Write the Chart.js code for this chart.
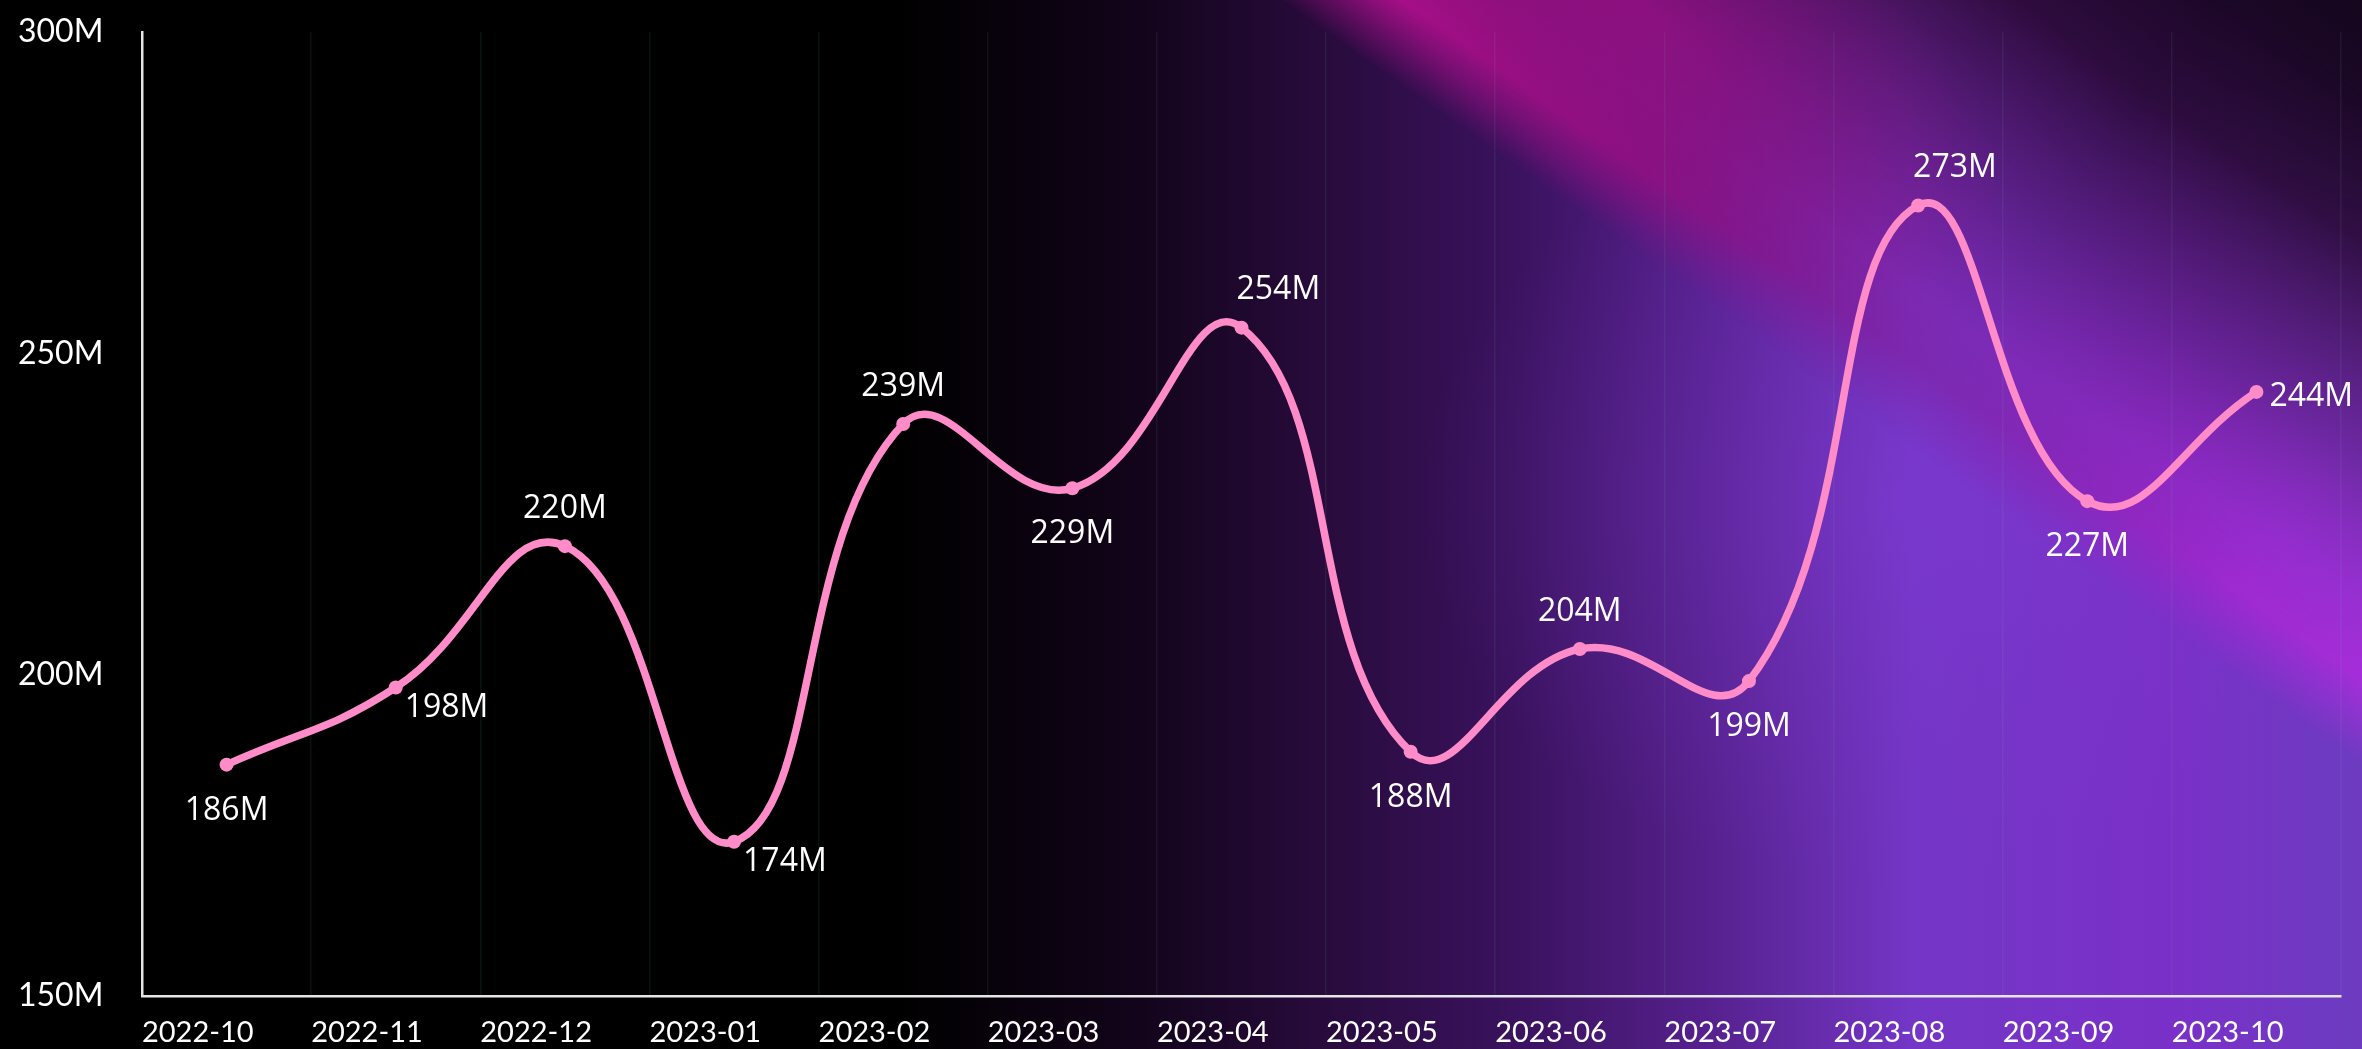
<!DOCTYPE html>
<html>
<head>
<meta charset="utf-8">
<script src="https://cdn.jsdelivr.net/npm/chart.js@4.4.1/dist/chart.umd.min.js"></script>
<style>
  html, body { margin: 0; padding: 0; background: #000; }
  #wrap { width: 2362px; height: 1049px; }
</style>
</head>
<body>
<div id="wrap"><canvas id="trendChart" width="2362" height="1049"></canvas></div>
<script>
// chart data
const months = ["2022-10", "2022-11", "2022-12", "2023-01", "2023-02", "2023-03", "2023-04",
                "2023-05", "2023-06", "2023-07", "2023-08", "2023-09", "2023-10"];
const values = [186, 198, 220, 174, 239, 229, 254, 188, 204, 199, 273, 227, 244];
const yTicks = [150, 200, 250, 300];
// where each value label sits relative to its point
const labelSpots = ["bottom", "bottomRight", "top", "bottomRight", "top", "bottom", "topRight",
                    "bottom", "top", "bottom", "topRight", "bottom", "right"];

const lineColor = "#ff8cc8";

// background: black on the left fading into purple, with a magenta streak
const backdrop = {
    id: "backdrop",
    beforeDraw(chart) {
        const ctx = chart.ctx;
        const w = chart.width, h = chart.height;
        ctx.save();
        ctx.fillStyle = "#000";
        ctx.fillRect(0, 0, w, h);

        let g = ctx.createLinearGradient(0, 0, w, 0);
        g.addColorStop(0.00, "rgba(0,0,0,1)");
        g.addColorStop(0.38, "rgba(0,0,0,1)");
        g.addColorStop(0.48, "#12041a");
        g.addColorStop(0.56, "#280b3c");
        g.addColorStop(0.64, "#3a125e");
        g.addColorStop(0.72, "#55208c");
        g.addColorStop(0.81, "#7436c6");
        g.addColorStop(0.92, "#7a30c8");
        g.addColorStop(1.00, "#6c3cc0");
        ctx.fillStyle = g;
        ctx.fillRect(0, 0, w, h);

        glow(ctx, 1900, 500, 0, 480, 0.8, "rgba(130,60,215,0.4)", "rgba(120,55,200,0.0)");

        // streak edge runs from the top middle down to the right edge
        const th = Math.atan2(680, 962);
        ctx.save();
        ctx.translate(1400, 0);
        ctx.rotate(th);
        let d = ctx.createLinearGradient(0, -60, 0, -600);
        d.addColorStop(0.00, "rgba(20,4,25,0)");
        d.addColorStop(0.55, "rgba(22,4,28,0.85)");
        d.addColorStop(1.00, "rgba(15,2,18,0.97)");
        ctx.fillStyle = d;
        ctx.fillRect(-1000, -2000, 4000, 2000);
        ctx.restore();

        // coloured streak, built off screen then laid on top
        const oc = document.createElement("canvas");
        oc.width = w; oc.height = h;
        const o = oc.getContext("2d");
        o.translate(1400, 0);
        o.rotate(th);
        let cu = o.createLinearGradient(0, 0, 1200, 0);
        cu.addColorStop(0.00, "rgba(175,15,140,1)");
        cu.addColorStop(0.25, "rgba(150,15,130,0.85)");
        cu.addColorStop(0.55, "rgba(130,25,150,0.45)");
        cu.addColorStop(0.85, "rgba(165,40,210,0.9)");
        cu.addColorStop(1.00, "rgba(170,45,220,1)");
        o.fillStyle = cu;
        o.fillRect(-1000, -2000, 4000, 4000);
        o.globalCompositeOperation = "destination-in";
        let cv = o.createLinearGradient(0, 70, 0, -480);
        cv.addColorStop(0.00, "rgba(0,0,0,0)");
        cv.addColorStop(0.13, "rgba(0,0,0,0.95)");
        cv.addColorStop(0.45, "rgba(0,0,0,0.4)");
        cv.addColorStop(1.00, "rgba(0,0,0,0)");
        o.fillStyle = cv;
        o.fillRect(-1000, -2000, 4000, 4000);
        ctx.drawImage(oc, 0, 0);

        // broad magenta wash at the top of the streak
        glow(ctx, 1640, 10, th, 420, 0.45, "rgba(165,15,135,0.55)", "rgba(150,15,130,0)");
        ctx.restore();
    }
};

function glow(ctx, cx, cy, ang, r, squash, inner, outer) {
    ctx.save();
    ctx.translate(cx, cy);
    ctx.rotate(ang);
    ctx.scale(1, squash);
    const rg = ctx.createRadialGradient(0, 0, 0, 0, 0, r);
    rg.addColorStop(0, inner);
    rg.addColorStop(1, outer);
    ctx.fillStyle = rg;
    ctx.fillRect(-r, -r, r * 2, r * 2);
    ctx.restore();
}

// value labels next to the points
const valueLabels = {
    id: "valueLabels",
    afterDatasetsDraw(chart) {
        const ctx = chart.ctx;
        const pts = chart.getDatasetMeta(0).data;
        ctx.save();
        ctx.font = "32px 'Open Sans', sans-serif";
        ctx.fillStyle = "#ffffff";
        ctx.textBaseline = "middle";
        pts.forEach((p, i) => {
            const txt = values[i] + "M";
            let x = p.x, y = p.y;
            ctx.textAlign = "center";
            switch (labelSpots[i]) {
                case "top": y -= 37; break;
                case "bottom": y += 46; break;
                case "topRight": ctx.textAlign = "left"; x -= 5; y -= 38; break;
                case "bottomRight": ctx.textAlign = "left"; x += 9; y += 20; break;
                case "right": ctx.textAlign = "left"; x += 13; y += 5; break;
            }
            ctx.fillText(txt, x, y);
        });
        ctx.restore();
    }
};

new Chart(document.getElementById("trendChart"), {
    type: "line",
    data: {
        labels: months,
        datasets: [{
            data: values,
            borderColor: lineColor,
            backgroundColor: lineColor,
            borderWidth: 7.5,
            tension: 0.45,
            pointRadius: 7,
            pointBorderWidth: 0,
            pointBackgroundColor: lineColor,
            clip: false
        }]
    },
    options: {
        responsive: false,
        animation: false,
        layout: { padding: { left: 18, right: 21, top: 32, bottom: 0 } },
        plugins: { legend: { display: false }, tooltip: { enabled: false } },
        scales: {
            x: {
                offset: true,
                grid: { display: true, offset: true, drawTicks: false, color: "rgba(110,200,150,0.09)", lineWidth: 1.5 },
                border: { display: true, color: "#e6e6e6", width: 2.5 },
                ticks: {
                    color: "#ffffff",
                    font: { family: "Lato, 'Open Sans', sans-serif", size: 29 },
                    align: "start",
                    labelOffset: -84.6,
                    padding: 19,
                    maxRotation: 0,
                    autoSkip: false
                },
                afterFit(scale) {
                    scale.height = 53;
                    scale.paddingLeft = 0;
                    scale.paddingRight = 0;
                }
            },
            y: {
                min: 150,
                max: 300,
                afterBuildTicks(scale) { scale.ticks = yTicks.map(v => ({ value: v })); },
                grid: { display: false, drawTicks: false },
                border: { display: true, color: "#e6e6e6", width: 2.5 },
                ticks: {
                    color: "#ffffff",
                    font: { family: "Lato, 'Open Sans', sans-serif", size: 32 },
                    crossAlign: "far",
                    callback: v => v + "M"
                },
                afterFit(scale) { scale.width = 124; }
            }
        }
    },
    plugins: [backdrop, valueLabels]
});
</script>
</body>
</html>
